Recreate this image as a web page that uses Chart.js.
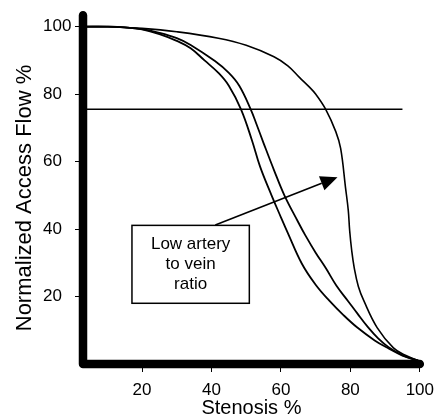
<!DOCTYPE html>
<html>
<head>
<meta charset="utf-8">
<script src="https://cdn.jsdelivr.net/npm/chart.js@4/dist/chart.umd.min.js"></script>
<style>
  body { margin: 0; background: #fff; }
  #wrap { width: 442px; height: 420px; }
</style>
</head>
<body>
<div id="wrap"><canvas id="flowChart" width="442" height="420"></canvas></div>
<script>
// values
const xTicks = [20, 40, 60, 80, 100];
const yTicks = [20, 40, 60, 80, 100];

// curve on the left (lowest artery to vein ratio)
const curveAX = [3, 10, 15, 20, 25, 30, 34, 38, 42, 45, 48.5, 51.6, 54, 57.3, 60, 62, 66, 70, 74, 78, 82, 87, 91, 95, 100];
const curveAY = [100, 100, 99.8, 99.2, 97.8, 95.8, 93.6, 90, 86.3, 82.5, 75.5, 66.5, 58.5, 50, 43.5, 38.8, 29.8, 23.5, 18.7, 14.5, 10.8, 7, 4.6, 2.5, 0.8];

// middle curve
const curveBX = [3, 10, 15, 20, 25, 30, 34, 41, 45, 48, 51.3, 53, 55, 58, 61, 64.8, 67, 70, 73, 76, 79.3, 82, 85, 88, 91, 95, 100];
const curveBY = [100, 100, 99.8, 99.3, 98.2, 96.6, 94.6, 89.8, 86.3, 82.5, 75.5, 71, 65.5, 57.5, 50, 42.4, 38.2, 33, 28.3, 23.2, 18.7, 15, 11, 7.6, 5, 2.6, 0.8];

// right curve
const curveCX = [3, 10, 20, 30, 42, 50, 58, 62, 65.4, 68, 70.1, 72.9, 75.8, 77.2, 78.6, 79.4, 79.8, 80.4, 81.1, 82.3, 83.9, 87.7, 92.4, 96, 100];
const curveCY = [100, 100, 99.5, 98.5, 96.6, 94.5, 91.1, 88.4, 84.9, 82.3, 79.9, 75.5, 68.9, 63.9, 52.3, 45.5, 39.5, 33.5, 28.6, 23, 18.7, 10.8, 4.8, 2.5, 0.8];

// horizontal reference line
const levelX = [3, 95];
const levelY = [75.5, 75.5];

// text box and arrow, in data units
const noteLines = ["Low artery", "to vein", "ratio"];
const noteBox = { x1: 17.1, x2: 50.9, y1: 41.1, y2: 18.0 };
const arrowFrom = { x: 41.1, y: 41.2 };
const arrowTo = { x: 76.3, y: 55.4 };

const fontFamily = "'Liberation Sans', Arial, sans-serif";

function toPoints(xs, ys) {
  const pts = [];
  for (let i = 0; i < xs.length; i++) {
    pts.push({ x: xs[i], y: ys[i] });
  }
  return pts;
}

function lineSet(xs, ys, width) {
  return {
    data: toPoints(xs, ys),
    borderColor: '#000',
    borderWidth: width,
    pointRadius: 0,
    fill: false,
    tension: 0.4
  };
}

// thick axes, note box, arrow and the y title
const extras = {
  id: 'extras',
  afterDatasetsDraw(chart) {
    const ctx = chart.ctx;
    const area = chart.chartArea;
    const xs = chart.scales.x;
    const ys = chart.scales.y;
    ctx.save();

    ctx.strokeStyle = '#000';
    ctx.lineWidth = 8.5;
    ctx.lineCap = 'round';
    ctx.lineJoin = 'round';
    ctx.beginPath();
    ctx.moveTo(area.left, area.top + 2);
    ctx.lineTo(area.left, area.bottom);
    ctx.lineTo(area.right, area.bottom);
    ctx.stroke();

    // box
    const bx1 = xs.getPixelForValue(noteBox.x1);
    const bx2 = xs.getPixelForValue(noteBox.x2);
    const by1 = ys.getPixelForValue(noteBox.y1);
    const by2 = ys.getPixelForValue(noteBox.y2);
    ctx.lineCap = 'butt';
    ctx.lineJoin = 'miter';
    ctx.fillStyle = '#fff';
    ctx.fillRect(bx1, by1, bx2 - bx1, by2 - by1);
    ctx.lineWidth = 1.5;
    ctx.strokeRect(bx1, by1, bx2 - bx1, by2 - by1);

    ctx.fillStyle = '#000';
    ctx.font = '17px ' + fontFamily;
    ctx.textAlign = 'center';
    ctx.textBaseline = 'middle';
    const midX = (bx1 + bx2) / 2;
    const midY = (by1 + by2) / 2;
    for (let i = 0; i < noteLines.length; i++) {
      ctx.fillText(noteLines[i], midX, midY + (i - 1) * 20);
    }

    // arrow
    const ax1 = xs.getPixelForValue(arrowFrom.x);
    const ay1 = ys.getPixelForValue(arrowFrom.y);
    const ax2 = xs.getPixelForValue(arrowTo.x);
    const ay2 = ys.getPixelForValue(arrowTo.y);
    const ang = Math.atan2(ay2 - ay1, ax2 - ax1);
    const headLen = 17;
    const headHalf = 7.5;
    const baseX = ax2 - headLen * Math.cos(ang);
    const baseY = ay2 - headLen * Math.sin(ang);
    ctx.lineWidth = 1.6;
    ctx.beginPath();
    ctx.moveTo(ax1, ay1);
    ctx.lineTo(baseX, baseY);
    ctx.stroke();
    ctx.beginPath();
    ctx.moveTo(ax2, ay2);
    ctx.lineTo(baseX + headHalf * Math.sin(ang), baseY - headHalf * Math.cos(ang));
    ctx.lineTo(baseX - headHalf * Math.sin(ang), baseY + headHalf * Math.cos(ang));
    ctx.closePath();
    ctx.fill();

    // y axis title
    ctx.translate(25, 198);
    ctx.rotate(-Math.PI / 2);
    ctx.font = '22px ' + fontFamily;
    ctx.fillText('Normalized Access Flow %', 0, 0);
    ctx.restore();
  }
};

const canvas = document.querySelector('#flowChart');

new Chart(canvas, {
  type: 'line',
  data: {
    datasets: [
      lineSet(curveAX, curveAY, 1.8),
      lineSet(curveBX, curveBY, 1.8),
      lineSet(curveCX, curveCY, 1.6),
      lineSet(levelX, levelY, 1.5)
    ]
  },
  options: {
    responsive: false,
    animation: false,
    devicePixelRatio: 1,
    layout: { padding: { left: 43, right: 15, top: 12, bottom: 0 } },
    plugins: {
      legend: { display: false },
      tooltip: { enabled: false }
    },
    scales: {
      x: {
        type: 'linear',
        min: 3,
        max: 100,
        afterBuildTicks: (scale) => { scale.ticks = xTicks.map(v => ({ value: v })); },
        afterFit: (scale) => { scale.height = 56; },
        border: { display: false },
        grid: { drawOnChartArea: false, drawTicks: true, tickLength: 8, color: '#000', lineWidth: 1 },
        ticks: { color: '#000', font: { size: 17, family: fontFamily }, padding: 8, maxRotation: 0 },
        title: { display: true, text: 'Stenosis %', color: '#000', font: { size: 20, family: fontFamily }, padding: { top: 0, bottom: 0 } }
      },
      y: {
        type: 'linear',
        min: 0,
        max: 104,
        afterBuildTicks: (scale) => { scale.ticks = yTicks.map(v => ({ value: v })); },
        afterFit: (scale) => { scale.width = 40; },
        border: { display: false },
        grid: { drawOnChartArea: false, drawTicks: true, tickLength: 8, color: '#000', lineWidth: 1 },
        ticks: { color: '#000', font: { size: 17, family: fontFamily }, crossAlign: 'far' }
      }
    }
  },
  plugins: [extras]
});
</script>
</body>
</html>
